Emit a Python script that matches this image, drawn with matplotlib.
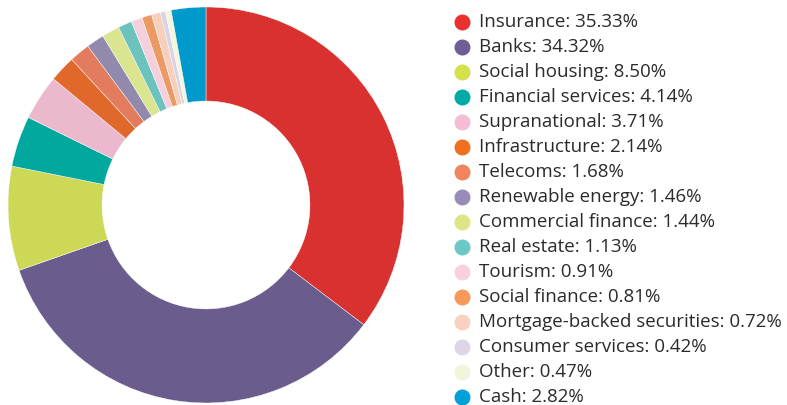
import matplotlib.pyplot as plt

# Sector breakdown
labels = ["Insurance", "Banks", "Social housing", "Financial services", "Supranational",
          "Infrastructure", "Telecoms", "Renewable energy", "Commercial finance", "Real estate",
          "Tourism", "Social finance", "Mortgage-backed securities", "Consumer services",
          "Other", "Cash"]
values = [35.33, 34.32, 8.50, 4.14, 3.71, 2.14, 1.68, 1.46, 1.44, 1.13,
          0.91, 0.81, 0.72, 0.42, 0.47, 2.82]
colors = ["#d93030", "#6a5c8c", "#cdd856", "#00a89d", "#ecb8cd", "#e0682a", "#e37b5f",
          "#9389ad", "#dbe48e", "#6cc3bd", "#f4d0dd", "#ea9a62", "#f6d0bd", "#d8d4e3",
          "#f3f5dc", "#0099cc"]
legend_colors = ["#e8302c", "#6e5e96", "#d4e04c", "#00aaa6", "#f5bcd6", "#f0701e", "#f0845e",
                 "#9a8cb8", "#dde686", "#6cc8c4", "#f8d0e0", "#f59a5c", "#fad0c0", "#dcd6e6",
                 "#f0f5dc", "#00a0d8"]

fig = plt.figure(figsize=(7.87, 4.05), dpi=100)

# Donut
ax = fig.add_axes([8 / 787, 2 / 405, 396 / 787, 396 / 405])
ax.pie(values, colors=colors, startangle=90, counterclock=False, radius=1,
       wedgeprops=dict(width=0.475, edgecolor="white", linewidth=0.3))
ax.set_xlim(-1, 1)
ax.set_ylim(-1, 1)
ax.set_aspect("equal")
ax.axis("off")

# Legend drawn by hand
top = 22
step = 25
for i, (lab, val, c) in enumerate(zip(labels, values, legend_colors)):
    y = 1 - (top + i * step) / 405
    fig.lines.append(plt.Line2D([462 / 787], [y], marker="o", markersize=10.5,
                                color=c, transform=fig.transFigure))
    fig.text(479 / 787, y, "{}: {:.2f}%".format(lab, val), fontsize=13.5,
             family="Open Sans", color="#2b2b2b", va="center", ha="left")

plt.savefig("out.png", dpi=100)
